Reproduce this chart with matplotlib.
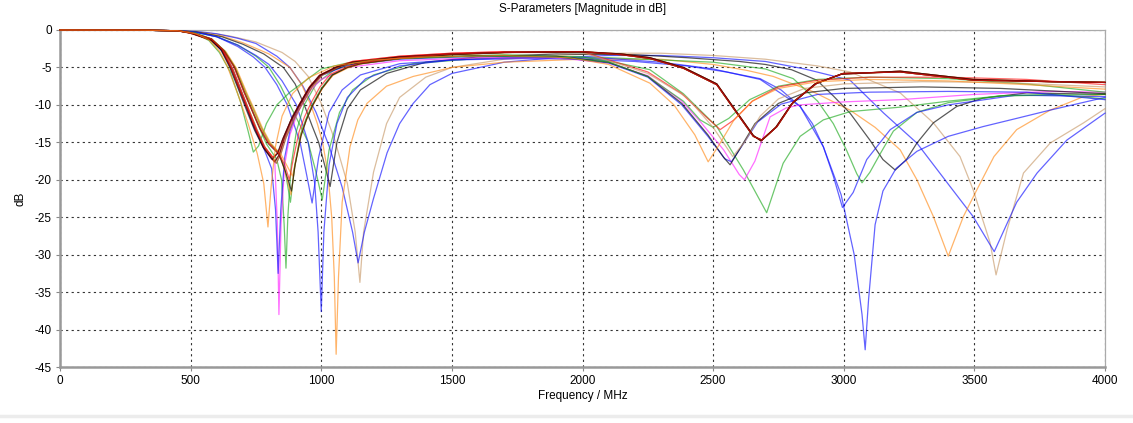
import numpy as np
import matplotlib
matplotlib.use('Agg')
import matplotlib.pyplot as plt
from matplotlib.lines import Line2D

plt.rcParams['font.family'] = ['Liberation Sans Narrow', 'Liberation Sans', 'DejaVu Sans']

# ---- data: (frequency MHz, dB) ----------------------------------------------
flat = [(0, 0.0), (300, -0.02), (450, -0.1)]

# first band, "early" part of the main bundle
red_1_head = [(500,-0.4),(580,-1.3),(620,-2.6),(655,-5.0),(690,-8.0),(720,-10.6),(750,-13.2),(780,-15.5),
              (815,-17.0),(835,-16.4),(855,-14.4),(885,-12.0),(915,-10.0),(955,-7.6),(995,-6.0),(1060,-4.9),
              (1120,-4.2),(1300,-3.5),(1500,-3.1),(1700,-2.9),(2000,-2.9)]
darkred_head = [(500,-0.45),(580,-1.4),(620,-2.7),(655,-5.2),(690,-8.3),(720,-10.9),(750,-13.5),(780,-15.8),
                (820,-17.6),(838,-16.8),(858,-14.6),(888,-12.1),(918,-10.1),(958,-7.7),(1000,-6.0),(1060,-5.0),
                (1120,-4.3),(1300,-3.6),(1500,-3.2),(1700,-3.0),(2000,-2.9)]
black_1_head = [(500,-0.4),(575,-1.3),(615,-2.6),(650,-5.0),(685,-8.1),(715,-10.8),(745,-13.4),(778,-15.7),
                (812,-17.3),(832,-16.5),(852,-14.6),(882,-12.2),(912,-10.2),(952,-7.8),(992,-6.1),(1060,-4.9),
                (1120,-4.3),(1300,-3.6),(1500,-3.2),(1700,-3.0),(2000,-2.95)]
brown_1_head = [(500,-0.4),(580,-1.3),(625,-2.7),(660,-5.1),(695,-8.2),(725,-10.8),(755,-13.4),(785,-15.7),
                (828,-17.8),(845,-16.6),(865,-14.4),(895,-12.0),(925,-10.0),(965,-7.6),(1005,-6.0),(1070,-4.9),
                (1130,-4.3),(1300,-3.6),(1500,-3.2),(1700,-3.0),(2000,-3.0)]
# first band, "late" part of the main bundle
green_1_head = [(500,-0.35),(580,-1.2),(630,-2.8),(670,-5.0),(710,-8.3),(740,-10.6),(770,-13.0),(800,-15.0),
                (840,-16.5),(862,-18.8),(882,-23.0),(897,-18.5),(920,-14.0),(940,-12.0),(965,-10.0),(1000,-7.8),
                (1040,-6.0),(1100,-5.0),(1150,-4.5),(1300,-3.8),(1500,-3.3),(1700,-3.0),(2000,-2.9)]
black_2_head = [(500,-0.35),(580,-1.2),(628,-2.8),(668,-5.0),(706,-8.4),(736,-10.8),(766,-13.2),(798,-15.2),
                (838,-16.6),(864,-19.0),(886,-21.5),(900,-18.0),(922,-14.2),(943,-12.0),(968,-10.0),(1003,-7.8),
                (1043,-6.0),(1100,-5.0),(1150,-4.5),(1300,-3.8),(1500,-3.3),(1700,-3.0),(2000,-2.9)]
red_2_head = [(500,-0.35),(580,-1.2),(625,-2.7),(665,-4.9),(703,-8.2),(733,-10.6),(763,-13.0),(795,-15.0),
              (836,-16.4),(860,-18.0),(878,-20.0),(893,-17.2),(915,-13.6),(936,-11.6),(960,-9.8),(995,-7.6),
              (1035,-5.9),(1100,-4.9),(1150,-4.4),(1300,-3.7),(1500,-3.2),(1700,-3.0),(2000,-2.9)]
orange_2_head = [(500,-0.35),(580,-1.25),(632,-2.9),(672,-5.1),(712,-8.5),(742,-10.8),(772,-13.2),(802,-15.1),
                 (842,-16.7),(866,-19.5),(884,-22.0),(899,-18.2),(921,-14.1),(942,-12.1),(967,-10.1),(1002,-7.9),
                 (1042,-6.1),(1100,-5.1),(1150,-4.5),(1300,-3.8),(1500,-3.3),(1700,-3.0),(2000,-2.9)]
brown_2_head = [(500,-0.35),(580,-1.2),(635,-2.9),(675,-5.1),(715,-8.4),(745,-10.7),(775,-13.1),(806,-15.1),
                (846,-16.6),(870,-18.2),(890,-19.5),(905,-17.0),(926,-13.6),(946,-11.7),(972,-9.8),(1006,-7.7),
                (1046,-6.0),(1100,-5.0),(1160,-4.5),(1300,-3.8),(1500,-3.3),(1700,-3.0),(2000,-2.9)]

# second band of the main bundle (thick line with dip near 2680 MHz)
thick_tail_a = [(2150,-3.3),(2258,-3.8),(2386,-5.1),(2514,-7.3),(2591,-11.1),(2654,-14.2),(2687,-14.7),
                (2744,-12.9),(2807,-9.6),(2897,-7.1),(2998,-5.8),(3216,-5.6),(3495,-6.7),(3800,-6.9),(4000,-7.0)]
thick_tail_b = [(2150,-3.2),(2258,-3.7),(2386,-5.0),(2514,-7.2),(2591,-11.0),(2654,-14.1),(2683,-14.8),
                (2740,-13.0),(2800,-9.9),(2890,-7.2),(2990,-5.9),(3216,-5.5),(3495,-6.6),(3800,-6.9),(4000,-7.0)]

orange_a = [(520,-0.5),(570,-1.3),(610,-2.8),(640,-4.8),(680,-8.5),(720,-12.5),(755,-16.5),(780,-20.5),
            (796,-26.3),(808,-21.0),(825,-15.5),(850,-11.5),(890,-8.5),(950,-6.4),(1050,-4.8),(1200,-4.0),
            (1400,-3.6),(1700,-3.4),(1950,-3.7),(2100,-4.6),(2258,-7.1),(2350,-10.0),(2430,-14.0),(2481,-17.6),
            (2520,-15.5),(2580,-12.0),(2650,-9.5),(2750,-7.8),(2900,-6.9),(3100,-6.6),(3400,-6.8),(3700,-7.3),
            (4000,-7.9)]
green_b = [(520,-0.5),(570,-1.4),(610,-3.0),(650,-5.5),(690,-9.5),(720,-13.5),(740,-16.3),(760,-15.5),
           (790,-12.5),(830,-10.0),(880,-8.3),(950,-6.5),(1000,-5.2),(1100,-4.4),(1300,-3.8),(1600,-3.5),
           (1900,-3.6),(2100,-4.3),(2250,-6.2),(2386,-9.5),(2450,-12.0),(2500,-13.0),(2560,-11.8),(2640,-9.3),
           (2750,-7.5),(2900,-6.6),(3100,-6.3),(3400,-6.5),(3700,-7.2),(4000,-8.3)]
red_b_tail = [(2100,-4.0),(2250,-5.6),(2380,-8.5),(2470,-11.5),(2527,-13.3),(2580,-12.0),(2650,-9.5),
              (2750,-7.6),(2900,-6.7),(3100,-6.3),(3400,-6.3),(3700,-6.6),(4000,-7.3)]
tan_e_tail = [(2100,-4.1),(2250,-5.8),(2400,-9.0),(2500,-13.0),(2575,-16.9),(2620,-15.0),(2680,-11.5),
              (2750,-9.2),(2850,-7.8),(3000,-7.2),(3300,-6.9),(3600,-7.0),(4000,-7.6)]
black_c = [(520,-0.5),(580,-1.4),(620,-2.7),(660,-5.2),(700,-8.8),(740,-12.6),(780,-15.6),(822,-17.6),
           (840,-16.6),(860,-14.2),(890,-11.5),(920,-9.8),(960,-7.4),(1000,-6.0),(1100,-4.6),(1300,-3.8),
           (1600,-3.4),(1900,-3.5),(2100,-4.3),(2250,-6.2),(2380,-9.8),(2480,-14.0),(2540,-17.0),(2565,-18.0),
           (2600,-16.0),(2660,-12.5),(2750,-9.8),(2850,-8.4),(3000,-7.8),(3300,-7.6),(3600,-7.8),(4000,-8.5)]
blue_c = [(520,-0.5),(580,-1.4),(620,-2.8),(660,-5.3),(700,-9.0),(740,-12.8),(780,-15.8),(810,-18.5),
          (825,-24.0),(835,-32.5),(845,-24.0),(860,-17.0),(880,-13.5),(910,-10.5),(960,-7.5),(1000,-6.1),
          (1100,-4.7),(1300,-3.9),(1600,-3.5),(1900,-3.6),(2100,-4.4),(2250,-6.3),(2380,-10.0),(2480,-14.2),
          (2545,-17.2),(2570,-17.6),(2610,-15.5),(2670,-12.3),(2760,-9.9),(2900,-8.6),(3100,-8.3),(3400,-8.2),
          (3700,-8.3),(4000,-9.3)]
magenta_d = [(520,-0.5),(580,-1.3),(620,-2.7),(660,-5.1),(700,-8.7),(740,-12.5),(780,-15.6),(805,-17.0),
             (822,-17.5),(832,-26.0),(838,-38.0),(846,-26.0),(860,-18.0),(880,-14.0),(910,-11.0),(960,-8.0),
             (1000,-6.6),(1100,-5.0),(1300,-4.1),(1600,-3.7),(1900,-3.7),(2100,-4.4),(2250,-6.1),(2380,-9.5),
             (2450,-12.2),(2540,-16.0),(2600,-19.3),(2620,-20.0),(2660,-17.5),(2718,-11.6),(2780,-10.4),
             (2833,-10.0),(3000,-9.6),(3216,-9.3),(3500,-8.6),(3800,-8.2),(4000,-8.3)]
green_g = [(520,-0.4),(580,-1.2),(630,-2.8),(670,-5.0),(710,-8.5),(750,-12.0),(790,-15.2),(830,-17.3),
           (848,-20.0),(858,-26.0),(865,-31.8),(872,-25.0),(885,-18.0),(905,-13.5),(935,-10.0),(980,-7.2),
           (1050,-5.3),(1150,-4.3),(1350,-3.7),(1700,-3.3),(2000,-3.6),(2150,-4.5),(2258,-5.3),(2386,-8.5),
           (2514,-12.9),(2616,-18.7),(2705,-24.4),(2768,-17.8),(2833,-14.2),(2922,-12.0),(3024,-10.9),
           (3216,-10.3),(3400,-9.5),(3600,-8.8),(3800,-8.6),(4000,-9.2)]
blue_h = [(520,-0.3),(600,-0.9),(680,-2.2),(740,-3.6),(785,-5.0),(830,-7.3),(870,-10.0),(919,-15.0),
          (945,-19.5),(965,-23.1),(990,-17.0),(1030,-11.0),(1080,-8.0),(1150,-6.0),(1300,-4.5),(1500,-4.0),
          (1800,-3.8),(2000,-3.9),(2200,-4.2),(2400,-4.8),(2550,-5.6),(2680,-6.5),(2760,-8.0),(2833,-10.2),
          (2880,-12.5),(2922,-15.6),(2960,-19.5),(2995,-23.7),(3036,-21.7),(3088,-17.3),(3178,-13.3),
          (3280,-11.0),(3400,-10.0),(3660,-8.7),(4000,-8.9)]
blue_i = [(520,-0.3),(600,-0.9),(680,-2.0),(750,-3.4),(800,-4.6),(850,-6.8),(905,-10.0),(950,-15.0),
          (975,-20.5),(988,-27.0),(1000,-37.6),(1010,-27.0),(1030,-18.0),(1060,-12.5),(1100,-9.0),
          (1170,-6.5),(1300,-4.8),(1500,-4.0),(1800,-3.6),(2100,-3.8),(2300,-4.3),(2500,-5.2),(2680,-6.6),
          (2833,-10.2),(2922,-15.6),(2990,-22.0),(3040,-30.0),(3070,-38.0),(3082,-42.7),(3095,-36.0),
          (3120,-26.0),(3150,-21.5),(3200,-18.5),(3280,-16.2),(3400,-14.2),(3533,-12.9),(3662,-11.8),
          (3790,-10.7),(4000,-9.0)]
green_j = [(520,-0.3),(600,-0.9),(680,-2.0),(750,-3.5),(800,-5.0),(845,-7.5),(880,-10.0),(920,-12.8),
           (950,-15.0),(980,-19.0),(1004,-22.7),(1030,-16.0),(1070,-11.0),(1120,-8.0),(1200,-6.0),
           (1350,-4.5),(1600,-3.8),(1900,-3.6),(2100,-3.7),(2300,-4.0),(2500,-4.3),(2700,-5.2),(2807,-6.5),
           (2900,-9.5),(2960,-12.5),(3010,-16.0),(3050,-19.2),(3070,-20.4),(3100,-19.0),(3140,-16.5),
           (3190,-13.5),(3280,-11.0),(3400,-9.7),(3600,-8.8),(4000,-8.6)]
black_k = [(520,-0.25),(620,-0.9),(700,-1.9),(780,-3.2),(855,-5.0),(900,-7.2),(935,-10.0),(965,-12.8),
           (990,-15.0),(1015,-18.3),(1034,-20.9),(1060,-15.0),(1100,-10.5),(1150,-8.0),(1250,-5.8),
           (1400,-4.3),(1600,-3.6),(1900,-3.2),(2200,-3.3),(2400,-3.7),(2600,-4.2),(2700,-4.6),(2800,-5.3),
           (2897,-6.7),(2960,-8.8),(3024,-11.1),(3100,-14.7),(3150,-17.3),(3197,-18.7),(3240,-17.3),
           (3280,-15.1),(3343,-12.4),(3433,-10.2),(3533,-9.1),(3700,-8.4),(4000,-8.6)]
orange_l = [(520,-0.25),(620,-0.8),(700,-1.7),(800,-3.2),(880,-5.0),(925,-7.3),(960,-10.0),(985,-12.5),
            (1005,-15.0),(1025,-19.0),(1040,-25.0),(1050,-33.0),(1057,-43.3),(1066,-33.0),(1080,-23.0),
            (1110,-15.6),(1140,-12.0),(1175,-9.8),(1250,-7.5),(1352,-6.2),(1500,-5.0),(1700,-4.3),
            (2000,-3.9),(2300,-3.9),(2500,-4.6),(2630,-5.4),(2730,-6.2),(2880,-8.2),(3024,-10.7),
            (3120,-13.0),(3216,-16.0),(3280,-20.0),(3343,-24.9),(3400,-30.2),(3458,-24.9),(3510,-21.3),
            (3575,-16.9),(3662,-13.3),(3790,-10.7),(3918,-8.9),(4000,-8.6)]
blue_m = [(520,-0.2),(600,-0.5),(680,-1.1),(750,-1.8),(830,-3.5),(880,-5.0),(930,-7.5),(980,-11.0),
          (1030,-15.5),(1080,-21.0),(1120,-27.0),(1141,-31.1),(1165,-27.0),(1200,-22.5),(1252,-16.4),
          (1300,-12.5),(1352,-9.8),(1416,-7.3),(1500,-5.8),(1700,-4.3),(1900,-3.7),(2100,-3.4),(2300,-3.4),
          (2500,-3.7),(2700,-4.2),(2850,-5.2),(3024,-6.7),(3153,-11.1),(3280,-15.1),(3407,-20.9),
          (3495,-24.9),(3576,-29.6),(3610,-27.0),(3662,-23.0),(3740,-19.1),(3854,-14.7),(4000,-11.1)]
tan_n = [(550,-0.3),(650,-0.8),(750,-1.6),(850,-3.0),(900,-4.2),(950,-6.2),(1000,-9.8),(1050,-14.5),
         (1100,-20.5),(1130,-27.0),(1148,-33.7),(1162,-27.0),(1200,-19.0),(1250,-12.5),(1300,-9.0),
         (1400,-6.3),(1500,-5.0),(1700,-3.9),(1900,-3.4),(2100,-3.1),(2300,-3.1),(2500,-3.4),(2700,-3.9),
         (2900,-4.8),(3024,-5.6),(3216,-8.4),(3343,-12.4),(3445,-16.9),(3495,-21.3),(3560,-28.4),
         (3583,-32.7),(3625,-26.7),(3688,-19.1),(3790,-15.1),(3918,-12.4),(4000,-10.5)]

C = {'orange': '#ff8c1a', 'green': '#1faa1f', 'blue': '#1010ff', 'red': '#ff1010',
     'black': '#000000', 'magenta': '#ff20ff', 'tan': '#c89a6a', 'brown': '#a0522d', 'darkred': '#b00000'}

curves = [
    (tan_n, 'tan'), (blue_m, 'blue'), (orange_l, 'orange'), (black_k, 'black'), (green_j, 'green'),
    (blue_i, 'blue'), (blue_h, 'blue'), (green_g, 'green'), (magenta_d, 'magenta'), (blue_c, 'blue'),
    (black_c, 'black'), (green_b, 'green'),
    (red_1_head + red_b_tail, 'red'), (brown_1_head + tan_e_tail, 'tan'),
    (brown_1_head + thick_tail_b, 'brown'), (brown_2_head + thick_tail_a, 'orange'),
    (green_1_head + thick_tail_a, 'green'), (orange_2_head + thick_tail_b, 'orange'),
    (red_1_head + thick_tail_a, 'red'), (darkred_head + thick_tail_b, 'darkred'),
    (black_1_head + thick_tail_a, 'black'), (black_2_head + thick_tail_b, 'black'),
    (red_2_head + thick_tail_a, 'red'), (orange_a, 'orange'),
]

x_ticks = [0, 500, 1000, 1500, 2000, 2500, 3000, 3500, 4000]
y_ticks = [0, -5, -10, -15, -20, -25, -30, -35, -40, -45]

# ---- figure ----------------------------------------------------------------
fig = plt.figure(figsize=(11.33, 4.23), dpi=100)
ax = fig.add_axes([60/1133, 1-367/423, 1045/1133, 337/423])

for pts, col in curves:
    f, db = zip(*(flat + pts))
    ax.plot(f, db, color=C[col], lw=0.9, alpha=0.65, solid_joinstyle='round',
            clip_on=False, zorder=3)

ax.set_xlim(0, 4000); ax.set_ylim(-45, 0)
ax.set_xticks(x_ticks); ax.set_yticks(y_ticks)
ax.set_yticklabels([str(v) for v in y_ticks])
ax.grid(True, color='#333333', ls=(0, (2, 3)), lw=0.8)
ax.tick_params(labelsize=8.5, length=3, color='#888888', pad=3)
for s in ['left', 'bottom']:
    ax.spines[s].set_color('#999999'); ax.spines[s].set_linewidth(1.8)
for s in ['top', 'right']:
    ax.spines[s].set_color('#aaaaaa'); ax.spines[s].set_linewidth(0.9)
ax.set_xlabel('Frequency / MHz', fontsize=8.5, labelpad=2)
ax.set_ylabel('dB', fontsize=8.5, labelpad=6)

fig.text(583/1133, 1-9/423, 'S-Parameters [Magnitude in dB]', ha='center', va='center', fontsize=8.5)
fig.add_artist(Line2D([0, 1], [1-416/423, 1-416/423], transform=fig.transFigure, color='#ececec', lw=2.5))

plt.savefig('out.png', dpi=100)
